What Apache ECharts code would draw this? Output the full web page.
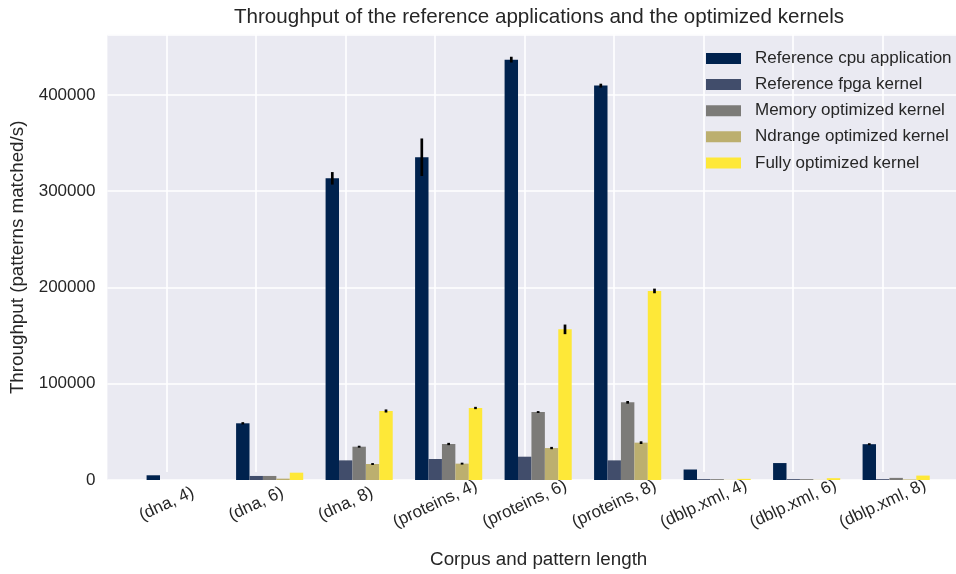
<!DOCTYPE html>
<html>
<head>
<meta charset="utf-8">
<title>Throughput of the reference applications and the optimized kernels</title>
<script src="https://cdn.jsdelivr.net/npm/echarts@6/dist/echarts.min.js"></script>
<style>
  html, body { margin: 0; padding: 0; background: #ffffff; }
  #chart { width: 956px; height: 574px; }
</style>
</head>
<body>
<div id="chart"></div>
<script>
// Corpus / pattern-length combinations on the x axis
const categories = ['(dna, 4)', '(dna, 6)', '(dna, 8)', '(proteins, 4)', '(proteins, 6)', '(proteins, 8)', '(dblp.xml, 4)', '(dblp.xml, 6)', '(dblp.xml, 8)'];

const seriesNames = ['Reference cpu application', 'Reference fpga kernel', 'Memory optimized kernel', 'Ndrange optimized kernel', 'Fully optimized kernel'];

// Mean throughput (patterns matched / s)
const cpuApp        = [4900, 58900, 313400, 335300, 436700, 409700, 10900, 17600, 37200];
const fpgaKernel    = [0, 4200, 20400, 21800, 24200, 20400, 900, 900, 900];
const memoryKernel  = [0, 4200, 34600, 37400, 70600, 80700, 900, 900, 2200];
const ndrangeKernel = [0, 1400, 16600, 17000, 33200, 38800, 200, 200, 600];
const fullyKernel   = [0, 7600, 71700, 74800, 156500, 196400, 1200, 1900, 4600];

// Half-length of the error bars (spread over repeated runs)
const cpuErr     = [0, 1200, 6500, 19500, 3000, 2000, 0, 0, 1000];
const fpgaErr    = [0, 0, 0, 0, 0, 0, 0, 0, 0];
const memoryErr  = [0, 0, 1000, 1200, 1000, 1400, 0, 0, 0];
const ndrangeErr = [0, 0, 1000, 1000, 1200, 1400, 0, 0, 0];
const fullyErr   = [0, 0, 1600, 1200, 5000, 2400, 0, 0, 0];

const yTickInterval = 100000;
const yMax = 462600;

const seriesValues = [cpuApp, fpgaKernel, memoryKernel, ndrangeKernel, fullyKernel];
const seriesErrors = [cpuErr, fpgaErr, memoryErr, ndrangeErr, fullyErr];
const colors = ['#00224e', '#414d6b', '#7c7b78', '#bcaf6f', '#fee838'];

const FONT = "'Liberation Sans', Arial, sans-serif";
const TEXT = '#262626';
const BAR_FRACTION = 0.15; // width of one bar relative to a category slot

// error bar records: [category, low, high, series]
const errorData = [];
seriesErrors.forEach((errs, s) => {
  errs.forEach((e, i) => {
    if (e > 0) errorData.push([i, seriesValues[s][i] - e, seriesValues[s][i] + e, s]);
  });
});

const chart = echarts.init(document.getElementById('chart'), null, { renderer: 'canvas' });

const gridTop = 34.7, gridBottom = 94;

const option = {
  animation: false,
  textStyle: { fontFamily: FONT, color: TEXT },
  color: colors,
  title: {
    text: 'Throughput of the reference applications and the optimized kernels',
    left: 534,
    textAlign: 'center',
    top: 2,
    textStyle: { fontFamily: FONT, fontSize: 20.6, fontWeight: 'normal', color: TEXT }
  },
  legend: {
    orient: 'vertical',
    left: 701,
    top: 45,
    itemWidth: 35,
    itemHeight: 11,
    itemGap: 9.1,
    icon: 'rect',
    data: seriesNames,
    textStyle: { fontFamily: FONT, fontSize: 17, color: TEXT, lineHeight: 17, padding: [0, 0, 0, 9] }
  },
  grid: [
    // plot background + horizontal grid lines
    { left: 107.4, right: -12.9, top: gridTop, bottom: gridBottom, show: true, backgroundColor: '#eaeaf2', borderWidth: 0 },
    // category ticks, labels and vertical grid lines
    { left: 166.7, right: 956 - 882.7, top: gridTop, bottom: gridBottom },
    // bars and error bars
    { left: 135.4, right: 15.1, top: gridTop, bottom: gridBottom }
  ],
  xAxis: [
    { type: 'value', gridIndex: 0, min: 0, max: 1, show: false },
    {
      type: 'value', gridIndex: 1, min: 0, max: categories.length - 1, interval: 1,
      axisLine: { show: false }, axisTick: { show: false },
      splitLine: { show: true, lineStyle: { color: '#ffffff', width: 1.6 } },
      axisLabel: {
        showMinLabel: true, showMaxLabel: true,
        rotate: 25, align: 'center', verticalAlign: 'middle', margin: 32,
        fontFamily: FONT, fontSize: 17, color: TEXT,
        formatter: v => categories[Math.round(v)]
      },
      name: 'Corpus and pattern length',
      nameLocation: 'middle', nameGap: 78,
      // centred under the whole plot area rather than the tick span
      nameTextStyle: { fontFamily: FONT, fontSize: 18.8, color: TEXT, padding: [0, 0, 0, 28] }
    },
    {
      type: 'category', gridIndex: 2, data: categories, show: false
    }
  ],
  yAxis: [
    {
      type: 'value', gridIndex: 0, min: 0, max: yMax, interval: yTickInterval,
      axisLine: { show: false }, axisTick: { show: false },
      splitLine: { show: true, lineStyle: { color: '#ffffff', width: 1.6 } },
      axisLabel: {
        showMaxLabel: false, margin: 12, fontFamily: FONT, fontSize: 17, color: TEXT,
        formatter: v => String(v)
      },
      name: 'Throughput (patterns matched/s)',
      nameLocation: 'middle', nameGap: 76.5,
      nameTextStyle: { fontFamily: FONT, fontSize: 18.8, color: TEXT }
    },
    { type: 'value', gridIndex: 1, min: 0, max: yMax, show: false },
    { type: 'value', gridIndex: 2, min: 0, max: yMax, show: false }
  ],
  series: seriesNames.map((name, s) => ({
    name,
    type: 'bar',
    xAxisIndex: 2,
    yAxisIndex: 2,
    barWidth: (BAR_FRACTION * 100) + '%',
    barGap: '0%',
    itemStyle: { color: colors[s] },
    data: seriesValues[s]
  })).concat([{
    type: 'custom',
    name: 'error',
    xAxisIndex: 2,
    yAxisIndex: 2,
    z: 5,
    encode: { x: 0, y: [1, 2] },
    data: errorData,
    renderItem: (params, api) => {
      const s = api.value(3);
      const lo = api.coord([api.value(0), api.value(1)]);
      const hi = api.coord([api.value(0), api.value(2)]);
      const band = api.size([1, 0])[0];
      const x = lo[0] + (s - 2) * band * BAR_FRACTION;
      return {
        type: 'line',
        shape: { x1: x, y1: lo[1], x2: x, y2: hi[1] },
        style: { stroke: '#000000', lineWidth: 2.7 }
      };
    }
  }])
};

chart.setOption(option);
</script>
</body>
</html>
